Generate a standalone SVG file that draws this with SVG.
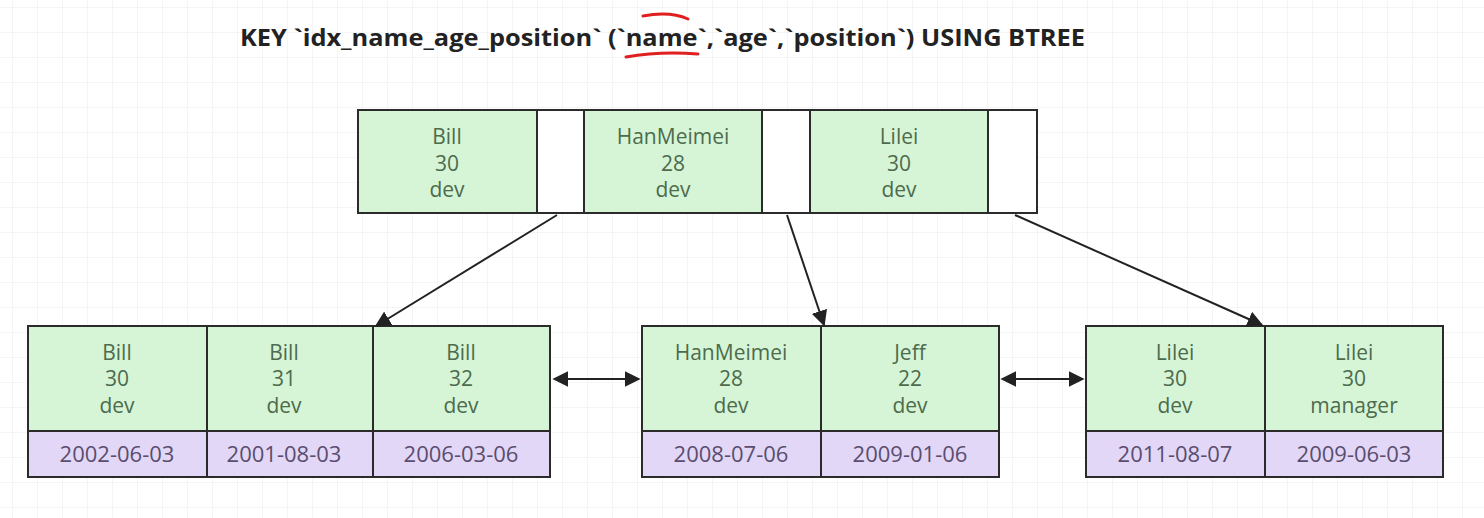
<svg xmlns="http://www.w3.org/2000/svg" width="1484" height="518" viewBox="0 0 1484 518">
<defs>
<pattern id="grid" x="12" y="7" width="25" height="25" patternUnits="userSpaceOnUse">
<path d="M0 0H25M0 0V25" fill="none" stroke="#ececec" stroke-width="1"/>
</pattern>
<marker id="ah2" viewBox="0 0 10 10" refX="9" refY="5" markerWidth="16" markerHeight="16" markerUnits="userSpaceOnUse" orient="auto-start-reverse">
<path d="M0 0L10 5L0 10z" fill="#222"/>
</marker>
</defs>
<style>
.g{fill:#d6f5d6;stroke:#2b2b2b;stroke-width:2}
.p{fill:#e2d7f7;stroke:#2b2b2b;stroke-width:2}
.w{fill:#ffffff;stroke:#2b2b2b;stroke-width:2}
.t{font-family:"Open Sans","Liberation Sans",sans-serif;font-size:21px;fill:#4d6b4d;text-anchor:middle}
.d{font-family:"Open Sans","Liberation Sans",sans-serif;font-size:22px;fill:#5a4d6e;text-anchor:middle}
.c{fill:none;stroke:#222;stroke-width:2}
</style>
<rect width="1484" height="518" fill="#ffffff"/>
<rect width="1484" height="518" fill="url(#grid)"/>
<text x="240" y="46" font-family="Open Sans, Liberation Sans, sans-serif" font-weight="bold" font-size="24" fill="#222" textLength="845" lengthAdjust="spacingAndGlyphs">KEY `idx_name_age_position` (`name`,`age`,`position`) USING BTREE</text>
<path d="M626 57 Q660 51 698 54" fill="none" stroke="#e02020" stroke-width="3" stroke-linecap="round"/>
<path d="M643 16 Q670 11 688 19" fill="none" stroke="#e02020" stroke-width="3" stroke-linecap="round"/>

<g id="root">
<rect class="g" x="358" y="110" width="179" height="103"/>
<rect class="w" x="537" y="110" width="47" height="103"/>
<rect class="g" x="584" y="110" width="178" height="103"/>
<rect class="w" x="762" y="110" width="48" height="103"/>
<rect class="g" x="810" y="110" width="178" height="103"/>
<rect class="w" x="988" y="110" width="49" height="103"/>
<text class="t" x="447" y="144">Bill</text><text class="t" x="447" y="171">30</text><text class="t" x="447" y="197">dev</text>
<text class="t" x="673" y="144">HanMeimei</text><text class="t" x="673" y="171">28</text><text class="t" x="673" y="197">dev</text>
<text class="t" x="899" y="144">Lilei</text><text class="t" x="899" y="171">30</text><text class="t" x="899" y="197">dev</text>
</g>

<g id="leaf1">
<rect class="g" x="28" y="326" width="179" height="105"/>
<rect class="g" x="207" y="326" width="166" height="105"/>
<rect class="g" x="373" y="326" width="177" height="105"/>
<rect class="p" x="28" y="431" width="179" height="46"/>
<rect class="p" x="207" y="431" width="166" height="46"/>
<rect class="p" x="373" y="431" width="177" height="46"/>
<text class="t" x="117" y="360">Bill</text><text class="t" x="117" y="386">30</text><text class="t" x="117" y="413">dev</text>
<text class="t" x="284" y="360">Bill</text><text class="t" x="284" y="386">31</text><text class="t" x="284" y="413">dev</text>
<text class="t" x="461" y="360">Bill</text><text class="t" x="461" y="386">32</text><text class="t" x="461" y="413">dev</text>
<text class="d" x="117" y="462">2002-06-03</text>
<text class="d" x="284" y="462">2001-08-03</text>
<text class="d" x="461" y="462">2006-03-06</text>
</g>

<g id="leaf2">
<rect class="g" x="642" y="326" width="179" height="105"/>
<rect class="g" x="821" y="326" width="178" height="105"/>
<rect class="p" x="642" y="431" width="179" height="46"/>
<rect class="p" x="821" y="431" width="178" height="46"/>
<text class="t" x="731" y="360">HanMeimei</text><text class="t" x="731" y="386">28</text><text class="t" x="731" y="413">dev</text>
<text class="t" x="910" y="360">Jeff</text><text class="t" x="910" y="386">22</text><text class="t" x="910" y="413">dev</text>
<text class="d" x="731" y="462">2008-07-06</text>
<text class="d" x="910" y="462">2009-01-06</text>
</g>

<g id="leaf3">
<rect class="g" x="1086" y="326" width="179" height="105"/>
<rect class="g" x="1265" y="326" width="178" height="105"/>
<rect class="p" x="1086" y="431" width="179" height="46"/>
<rect class="p" x="1265" y="431" width="178" height="46"/>
<text class="t" x="1175" y="360">Lilei</text><text class="t" x="1175" y="386">30</text><text class="t" x="1175" y="413">dev</text>
<text class="t" x="1354" y="360">Lilei</text><text class="t" x="1354" y="386">30</text><text class="t" x="1354" y="413">manager</text>
<text class="d" x="1175" y="462">2011-08-07</text>
<text class="d" x="1354" y="462">2009-06-03</text>
</g>

<g id="connectors">
<line class="c" x1="557" y1="215" x2="376" y2="326" marker-end="url(#ah2)"/>
<line class="c" x1="787" y1="215" x2="824" y2="325" marker-end="url(#ah2)"/>
<line class="c" x1="1015" y1="215" x2="1262" y2="325" marker-end="url(#ah2)"/>
<line class="c" x1="554" y1="379" x2="639" y2="379" marker-start="url(#ah2)" marker-end="url(#ah2)"/>
<line class="c" x1="1002" y1="379" x2="1083" y2="379" marker-start="url(#ah2)" marker-end="url(#ah2)"/>
</g>
</svg>
